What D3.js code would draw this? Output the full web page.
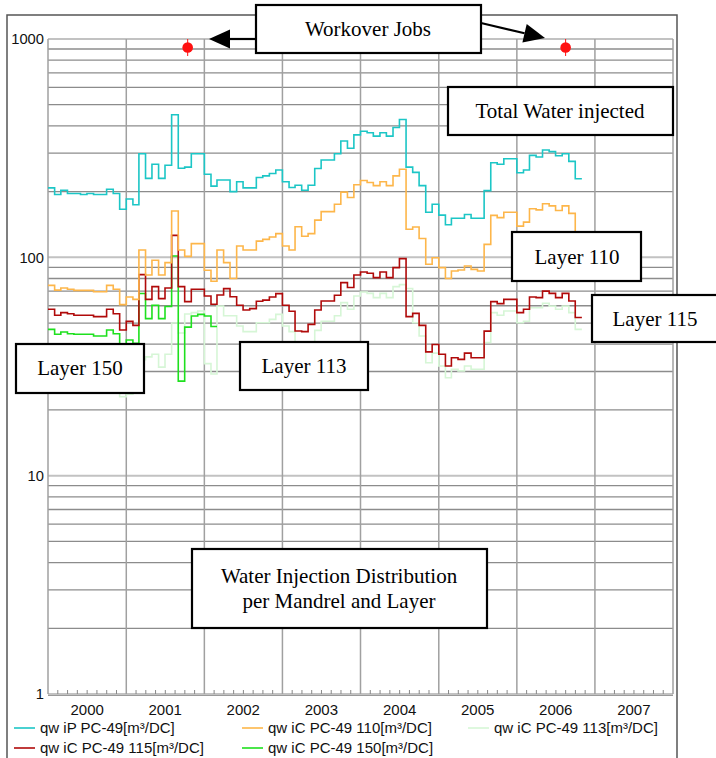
<!DOCTYPE html>
<html><head><meta charset="utf-8">
<script src="https://cdn.jsdelivr.net/npm/d3@7"></script>
<style>body{margin:0;background:#fff;} svg{display:block;}</style>
</head><body><svg id="c" width="716" height="758"></svg>
<script>
// ---- data (monthly values starting Jan 2000) ----
const startMonth = "2000-01";
const years = [2000, 2001, 2002, 2003, 2004, 2005, 2006, 2007];
const yTicks = [1, 10, 100, 1000];
const qwTotal = [208,194,203,196,196,194,196,194,194,205,196,166,
  185,174,298,230,267,230,264,450,256,259,298,298,
  240,212,226,226,200,222,208,208,232,236,242,251,
  222,209,214,203,214,255,279,279,298,341,316,364,
  378,372,359,372,359,393,428,259,245,213,161,175,
  156,141,151,151,157,151,151,202,271,267,283,283,
  244,251,293,288,310,305,292,298,275,229];
const qw110 = [74.4,70.8,72.4,71.4,70.6,70.6,70.6,69.6,69.6,74.4,71.4,60.7,
  65.8,64.2,108,83,96.9,83,94.6,163,108,101,115.5,115.5,
  87.2,77.7,108,94.6,80,112.7,108,108,118.7,120.9,123.9,128.4,
  112.7,108,138,125,128.4,148,162,162,175,199,188,215,
  225,220,213,222,213,236,253,134.4,137.6,122,92.9,99.6,
  89.7,80,86.6,87.5,91.2,88.1,86.6,114.7,155.7,152,161,161,
  139,145,167,165,176,172,164,172,159,120];
const qw113 = [33,32,33,33,32,32,32,31,31,33,32,23,
  23.6,24,34,35,36,31.4,36,50,45,55,55.8,56.8,
  32.6,29.2,59.8,54,54,48.5,45.7,45.7,50.2,50.2,52,54.8,
  48.5,45.7,38,37,39,46.3,51,51,54,62,57.8,66.5,
  69.4,68.4,65.4,68.4,65.4,73.4,75,72,50.2,43.6,32.9,36.4,
  31.8,28.1,30.7,30.2,31.8,30.7,30.7,40.7,55.8,54.3,56.8,56.8,
  50.2,51,58.8,58.8,61.6,59.8,57.8,59.8,55.8,46.8];
const qw115 = [57.8,54.3,55.8,55.2,54.3,54.3,54.3,53.5,53.5,57.8,55.2,46.5,
  50.9,48.8,83.3,64.2,73.4,64.7,72.4,126,73.4,62.7,71.4,71.4,
  66.5,61,67.2,71.9,66,60.3,57.4,58.2,62.9,63.7,65.8,68.2,
  60.3,56.6,46,45.7,49.3,57.4,63.1,63.1,67,76.6,72.7,83,
  85.7,84.5,80.7,85.7,80.7,89.7,98.6,53.5,55.4,48.8,36.9,39.9,
  36,31.8,34.7,34.1,36.4,34.7,34.7,45.9,62.7,61.4,64.2,64.2,
  55.8,57.8,65.8,65.4,70,68.4,65.4,68.4,63.1,53];
const qw150 = [46.8,44.4,45.5,44.7,44.4,44.4,44.4,43.6,43.6,46.5,44.7,38,
  41.8,40.4,68.3,52.4,60.3,52.4,59.5,101.4,27.1,47.9,53.9,54.8,
  53.9,48.2];
const workoverDates = ["2001-10-15", "2006-08-17"];
const seriesNames = ["qw iP PC-49[m³/DC]", "qw iC PC-49 110[m³/DC]", "qw iC PC-49 113[m³/DC]",
  "qw iC PC-49 115[m³/DC]", "qw iC PC-49 150[m³/DC]"];
const seriesValues = [qwTotal, qw110, qw113, qw115, qw150];
const seriesColors = ["#1cc6c6", "#fdb64a", "#d6f6d6", "#b00a0a", "#1ee01e"];

// ---- layout ----
const svg = d3.select("#c");
const L = 48, R = 673, T = 39, B = 694;
const parse = d3.utcParse("%Y-%m");
const t0 = parse(startMonth);
const x = d3.scaleUtc().domain([new Date(Date.UTC(2000,0,1)), new Date(Date.UTC(2008,0,1))]).range([L, R]);
const y = d3.scaleLog().domain([1, 1000]).range([B, T]);

// outer frame
svg.append("rect").attr("x", 7).attr("y", 15).attr("width", 670).attr("height", 760)
  .attr("fill", "none").attr("stroke", "#555").attr("stroke-width", 1.5);

// horizontal grid
const hLines = [];
for (let d = 1; d < 1000; d *= 10) for (let k = 1; k < 10; k++) hLines.push(d * k);
hLines.push(1000);
svg.append("g").selectAll("line").data(hLines).join("line")
  .attr("x1", L).attr("x2", R).attr("y1", d => y(d)).attr("y2", d => y(d))
  .attr("stroke", d => yTicks.includes(d) ? "#c2c2c2" : "#8c8c8c")
  .attr("stroke-width", d => yTicks.includes(d) ? 2 : 1.3);

// vertical year lines
const yearDates = years.map(yy => new Date(Date.UTC(yy, 0, 1))).concat([new Date(Date.UTC(2008,0,1))]);
svg.append("g").selectAll("line").data(yearDates).join("line")
  .attr("x1", d => x(d)).attr("x2", d => x(d)).attr("y1", T).attr("y2", B)
  .attr("stroke", "#a0a0a0").attr("stroke-width", 1.5);

// bottom axis with minor ticks
svg.append("line").attr("x1", L).attr("x2", R).attr("y1", B + 1.5).attr("y2", B + 1.5).attr("stroke", "#9a9a9a").attr("stroke-width", 1.2);
const minor = [];
years.forEach(yy => { for (let k = 1; k < 8; k++) minor.push(new Date(Date.UTC(yy, 0, 1) + k * (Date.UTC(yy + 1, 0, 1) - Date.UTC(yy, 0, 1)) / 8)); });
svg.append("g").selectAll("line").data(minor).join("line")
  .attr("x1", d => x(d)).attr("x2", d => x(d)).attr("y1", B - 4).attr("y2", B)
  .attr("stroke", "#888").attr("stroke-width", 1);

// y labels
svg.append("g").selectAll("text").data(yTicks).join("text")
  .attr("x", 44).attr("y", d => y(d)).attr("dy", "0.36em").attr("text-anchor", "end")
  .attr("font-family", "Liberation Sans, Arial, sans-serif").attr("font-size", 15)
  .attr("textLength", d => String(d).length * 8.2).attr("lengthAdjust", "spacingAndGlyphs")
  .attr("fill", "#111").text(d => d);

// x labels
svg.append("g").selectAll("text").data(years).join("text")
  .attr("x", d => x(new Date(Date.UTC(d, 6, 2)))).attr("y", 715).attr("text-anchor", "middle")
  .attr("font-family", "Liberation Sans, Arial, sans-serif").attr("font-size", 15)
  .attr("fill", "#111").text(d => d);

// series
const drawOrder = [2, 4, 3, 1, 0];
const line = d3.line().x(d => x(d[0])).y(d => y(d[1])).curve(d3.curveStepAfter);
drawOrder.forEach(i => {
  const vals = seriesValues[i];
  const pts = vals.map((v, m) => [d3.utcMonth.offset(t0, m), v]);
  pts.push([d3.utcMonth.offset(t0, vals.length), vals[vals.length - 1]]);
  svg.append("path").datum(pts).attr("d", line).attr("fill", "none")
    .attr("stroke", seriesColors[i]).attr("stroke-width", 1.6);
});

// workover markers
workoverDates.forEach(ds => {
  const px = x(d3.utcParse("%Y-%m-%d")(ds));
  svg.append("line").attr("x1", px).attr("x2", px).attr("y1", 39).attr("y2", 56).attr("stroke", "#ff1010").attr("stroke-width", 1);
  svg.append("circle").attr("cx", px).attr("cy", 47.5).attr("r", 5.3).attr("fill", "#ff1010");
});

// annotation boxes
const serif = "Liberation Serif, Times New Roman, serif";
function box(x0, y0, x1, y1, lines, cx, cy, lh) {
  svg.append("rect").attr("x", x0).attr("y", y0).attr("width", x1 - x0).attr("height", y1 - y0)
    .attr("fill", "#fff").attr("stroke", "#000").attr("stroke-width", 2.2);
  lines.forEach((t, k) => svg.append("text").attr("x", cx).attr("y", cy + k * (lh || 0))
    .attr("text-anchor", "middle").attr("dy", "0.35em").attr("font-family", serif)
    .attr("font-size", 21).attr("fill", "#000").text(t));
}
// arrows
svg.append("line").attr("x1", 228).attr("y1", 39).attr("x2", 257).attr("y2", 39).attr("stroke", "#000").attr("stroke-width", 2.2);
svg.append("path").attr("d", "M209,39 L230,29.5 L230,48.5 Z").attr("fill", "#000");
(function () {
  const x0 = 481, y0 = 23, x1 = 545, y1 = 38;
  const a = Math.atan2(y1 - y0, x1 - x0), len = 21, hw = 9.5;
  const bx = x1 - len * Math.cos(a), by = y1 - len * Math.sin(a);
  svg.append("line").attr("x1", x0).attr("y1", y0).attr("x2", bx).attr("y2", by).attr("stroke", "#000").attr("stroke-width", 2.2);
  svg.append("path").attr("d", `M${x1},${y1} L${bx - hw * Math.sin(a)},${by + hw * Math.cos(a)} L${bx + hw * Math.sin(a)},${by - hw * Math.cos(a)} Z`).attr("fill", "#000");
})();
box(256, 5, 481, 53, ["Workover Jobs"], 368, 29);
box(448, 87, 673, 135, ["Total Water injected"], 560, 111);
box(512, 232, 641, 281, ["Layer 110"], 577, 257);
box(592, 295, 720, 342, ["Layer 115"], 655, 319);
box(16, 344, 144, 393, ["Layer 150"], 80, 368);
box(240, 342, 368, 390, ["Layer 113"], 304, 366);
box(192, 549, 487, 628, ["Water Injection Distribution", "per Mandrel and Layer"], 339, 576, 25);

// legend
const legPos = [[14, 728], [242, 728], [468, 728], [14, 748], [242, 748]];
seriesNames.forEach((n, i) => {
  const [lx, ly] = legPos[i];
  svg.append("line").attr("x1", lx).attr("x2", lx + 21).attr("y1", ly).attr("y2", ly)
    .attr("stroke", seriesColors[i]).attr("stroke-width", 1.6);
  svg.append("text").attr("x", lx + 26).attr("y", ly).attr("dy", "0.36em")
    .attr("font-family", "Liberation Sans, Arial, sans-serif").attr("font-size", 15)
    .attr("fill", "#111").text(n);
});
</script></body></html>
